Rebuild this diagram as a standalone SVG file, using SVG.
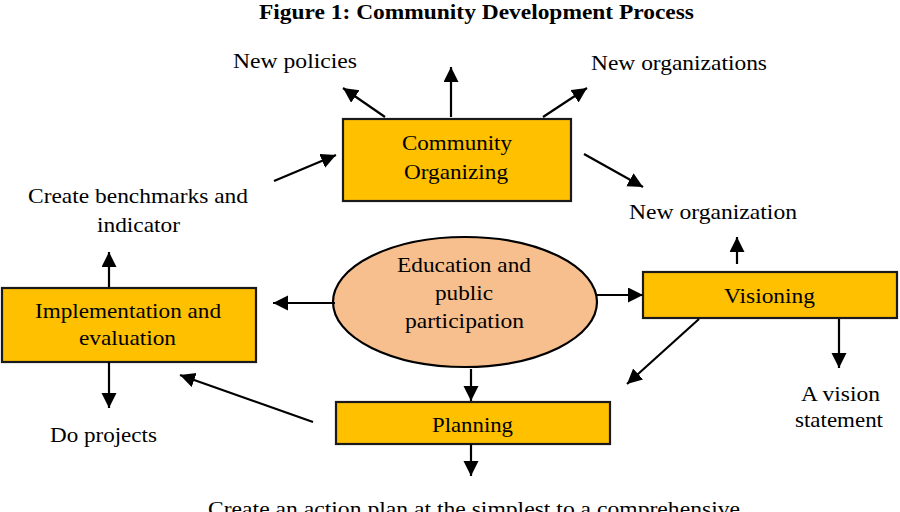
<svg xmlns="http://www.w3.org/2000/svg" width="900" height="512" viewBox="0 0 900 512">
<defs>
<marker id="ah" markerUnits="userSpaceOnUse" markerWidth="16" markerHeight="16" viewBox="0 0 16 16" refX="15" refY="7.5" orient="auto">
<path d="M0,0 L15,7.5 L0,15 z" fill="#000"/>
</marker>
<style>
.t{font-family:"Liberation Serif","Times New Roman",serif;font-size:21px;fill:#000;}
.title{font-family:"Liberation Serif","Times New Roman",serif;font-size:20px;font-weight:bold;fill:#000;}
.box{fill:#FFC000;stroke:#1a1a1a;stroke-width:2.2;}
.ell{fill:#F8BF8E;stroke:#000;stroke-width:2.2;}
.c line{stroke:#000;stroke-width:2.2;marker-end:url(#ah);}
</style>
</defs>
<rect width="900" height="512" fill="#fff"/>
<text class="title" x="259" y="19" textLength="435" lengthAdjust="spacingAndGlyphs">Figure 1: Community Development Process</text>

<g id="community-organizing">
<rect class="box" x="343" y="119" width="228" height="82"/>
<text class="t" x="402" y="150" textLength="110" lengthAdjust="spacingAndGlyphs">Community</text>
<text class="t" x="404" y="179" textLength="104" lengthAdjust="spacingAndGlyphs">Organizing</text>
</g>
<g id="education">
<ellipse class="ell" cx="465" cy="302" rx="132" ry="65"/>
<text class="t" x="397" y="272" textLength="134" lengthAdjust="spacingAndGlyphs">Education and</text>
<text class="t" x="435" y="300" textLength="58" lengthAdjust="spacingAndGlyphs">public</text>
<text class="t" x="405" y="328" textLength="119" lengthAdjust="spacingAndGlyphs">participation</text>
</g>
<g id="implementation">
<rect class="box" x="2" y="288" width="254" height="74"/>
<text class="t" x="35" y="318" textLength="186" lengthAdjust="spacingAndGlyphs">Implementation and</text>
<text class="t" x="79" y="345" textLength="97" lengthAdjust="spacingAndGlyphs">evaluation</text>
</g>
<g id="visioning">
<rect class="box" x="643" y="272" width="254" height="46"/>
<text class="t" x="724" y="303" textLength="91" lengthAdjust="spacingAndGlyphs">Visioning</text>
</g>
<g id="planning">
<rect class="box" x="336" y="402" width="274" height="42"/>
<text class="t" x="432" y="432" textLength="81" lengthAdjust="spacingAndGlyphs">Planning</text>
</g>

<g id="labels">
<text class="t" x="233" y="68" textLength="124" lengthAdjust="spacingAndGlyphs">New policies</text>
<text class="t" x="591" y="70" textLength="176" lengthAdjust="spacingAndGlyphs">New organizations</text>
<text class="t" x="629" y="219" textLength="168" lengthAdjust="spacingAndGlyphs">New organization</text>
<text class="t" x="28" y="203" textLength="220" lengthAdjust="spacingAndGlyphs">Create benchmarks and</text>
<text class="t" x="97" y="232" textLength="83" lengthAdjust="spacingAndGlyphs">indicator</text>
<text class="t" x="50" y="442" textLength="107" lengthAdjust="spacingAndGlyphs">Do projects</text>
<text class="t" x="801" y="401" textLength="79" lengthAdjust="spacingAndGlyphs">A vision</text>
<text class="t" x="795" y="427" textLength="88" lengthAdjust="spacingAndGlyphs">statement</text>
<text class="t" x="208" y="516" textLength="532" lengthAdjust="spacingAndGlyphs">Create an action plan at the simplest to a comprehensive</text>
</g>

<g id="connectors" class="c">
<line x1="385" y1="117" x2="343" y2="88"/>
<line x1="451" y1="117" x2="451" y2="67"/>
<line x1="543" y1="117" x2="587" y2="88"/>
<line x1="274" y1="181" x2="336" y2="155"/>
<line x1="584" y1="154" x2="643" y2="187"/>
<line x1="109" y1="287" x2="109" y2="252"/>
<line x1="109" y1="362" x2="109" y2="408"/>
<line x1="335" y1="303" x2="273" y2="303"/>
<line x1="597" y1="295" x2="643" y2="295"/>
<line x1="737" y1="264" x2="737" y2="237"/>
<line x1="839" y1="319" x2="839" y2="368"/>
<line x1="699" y1="319" x2="627" y2="384"/>
<line x1="471" y1="369" x2="471" y2="401"/>
<line x1="313" y1="422" x2="180" y2="375"/>
<line x1="471" y1="444" x2="471" y2="476"/>
</g>
</svg>
